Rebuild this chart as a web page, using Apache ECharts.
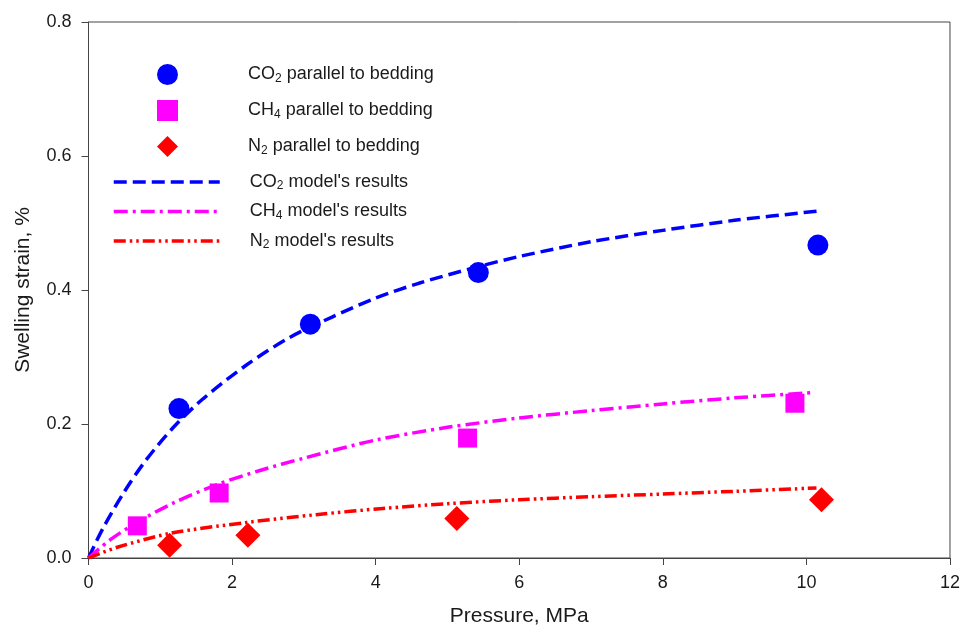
<!DOCTYPE html>
<html>
<head>
<meta charset="utf-8">
<script src="https://cdn.jsdelivr.net/npm/echarts@6/dist/echarts.min.js"></script>
<style>
html,body{margin:0;padding:0;background:#fff;}
#chart{width:963px;height:633px;}
</style>
</head>
<body>
<div id="chart"></div>
<script>
// Measured points
const co2X = [1.26, 3.09, 5.43, 10.16];
const co2Y = [0.223, 0.349, 0.426, 0.467];
const ch4X = [0.68, 1.82, 5.28, 9.84];
const ch4Y = [0.048, 0.097, 0.179, 0.231];
const n2X = [1.13, 2.22, 5.13, 10.21];
const n2Y = [0.019, 0.034, 0.059, 0.087];

// Model curves
const co2ModelX = [0, 0.2, 0.5, 0.8, 1.2, 1.6, 2.2, 2.8, 3.4, 4.0, 4.6, 5.4, 6.0, 7.0, 8.0, 9.0, 10.18];
const co2ModelY = [0, 0.044, 0.099, 0.146, 0.197, 0.238, 0.288, 0.329, 0.360, 0.388, 0.410, 0.434, 0.450, 0.472, 0.489, 0.504, 0.518];
const ch4ModelX = [0, 0.3, 0.69, 1.2, 1.8, 2.4, 3.0, 4.0, 5.0, 6.0, 7.0, 8.0, 9.0, 10.1];
const ch4ModelY = [0, 0.027, 0.054, 0.083, 0.110, 0.131, 0.149, 0.176, 0.195, 0.209, 0.220, 0.230, 0.239, 0.247];
const n2ModelX = [0, 0.4, 1.15, 2.2, 3.2, 4.1, 5.0, 6.0, 7.0, 8.0, 9.0, 10.14];
const n2ModelY = [0, 0.016, 0.037, 0.053, 0.065, 0.074, 0.081, 0.087, 0.0915, 0.0955, 0.0995, 0.1045];

// Axis ticks
const xTicks = [0, 2, 4, 6, 8, 10, 12];
const yTicks = [0.0, 0.2, 0.4, 0.6, 0.8];

const names = {
  co2: "CO2 parallel to bedding",
  ch4: "CH4 parallel to bedding",
  n2: "N2 parallel to bedding",
  co2m: "CO2 model's results",
  ch4m: "CH4 model's results",
  n2m: "N2 model's results"
};

function pairs(xs, ys) { return xs.map((x, i) => [x, ys[i]]); }

const FONT = "Liberation Sans, Arial, sans-serif";
const TXT = '#1a1a1a';
function fmt(name) {
  const m = name.match(/^(CO|CH|N)(\d)(.*)$/);
  return '{sp|}{t|' + m[1] + '}{sub|' + m[2] + '}{t|' + m[3] + '}';
}
function richFor(spW) {
  return {
    sp: { width: spW },
    t: { fontSize: 18, color: TXT, fontFamily: FONT, lineHeight: 20 },
    sub: { fontSize: 12, color: TXT, fontFamily: FONT, lineHeight: 8, verticalAlign: 'bottom' }
  };
}

const chart = echarts.init(document.getElementById('chart'), null, { renderer: 'canvas' });
chart.setOption({
  animation: false,
  backgroundColor: '#fff',
  grid: { left: 88.5, right: 10.5, top: 22, bottom: 75, show: true, borderColor: '#444', borderWidth: 1, backgroundColor: 'transparent' },
  xAxis: {
    type: 'value', min: xTicks[0], max: xTicks[xTicks.length - 1], interval: 2,
    name: 'Pressure, MPa', nameLocation: 'middle', nameGap: 48,
    nameTextStyle: { fontSize: 21, color: TXT, fontFamily: FONT },
    axisLine: { show: true, lineStyle: { color: '#444', width: 1 } },
    axisTick: { show: true, inside: false, length: 7, lineStyle: { color: '#444' } },
    axisLabel: { fontSize: 18, color: TXT, fontFamily: FONT, margin: 16 },
    splitLine: { show: false }
  },
  yAxis: {
    type: 'value', min: yTicks[0], max: yTicks[yTicks.length - 1], interval: 0.2,
    name: 'Swelling strain, %', nameLocation: 'middle', nameGap: 55,
    nameTextStyle: { fontSize: 21, color: TXT, fontFamily: FONT },
    axisLine: { show: true, lineStyle: { color: '#444', width: 1 } },
    axisTick: { show: true, inside: false, length: 7, lineStyle: { color: '#444' } },
    axisLabel: { fontSize: 18, color: TXT, fontFamily: FONT, margin: 17, formatter: v => v.toFixed(1) },
    splitLine: { show: false }
  },
  legend: [
    {
      data: [names.co2, names.ch4, names.n2],
      orient: 'vertical', left: 157, top: 64, padding: 0,
      itemWidth: 21, itemHeight: 21, itemGap: 15,
      formatter: fmt,
      textStyle: { rich: richFor(65) },
      selectedMode: false
    },
    {
      data: [
        { name: names.co2m, itemStyle: { opacity: 0 } },
        { name: names.ch4m, itemStyle: { opacity: 0 } },
        { name: names.n2m, itemStyle: { opacity: 0 } }
      ],
      orient: 'vertical', left: 112, top: 173, padding: 0,
      itemWidth: 106, itemHeight: 20, itemGap: 10.5,
      lineStyle: { width: 3.5 },
      formatter: fmt,
      textStyle: { rich: richFor(25) },
      selectedMode: false
    }
  ],
  series: [
    {
      name: names.co2m, type: 'line', data: pairs(co2ModelX, co2ModelY),
      symbol: 'none', smooth: 0.3, z: 2,
      lineStyle: { color: '#0000ff', width: 3.5, type: [13, 6], cap: 'butt' },
      itemStyle: { color: '#0000ff' }
    },
    {
      name: names.ch4m, type: 'line', data: pairs(ch4ModelX, ch4ModelY),
      symbol: 'none', smooth: 0.3, z: 2,
      lineStyle: { color: '#ff00ff', width: 3.5, type: [14, 5, 3, 5], cap: 'butt' },
      itemStyle: { color: '#ff00ff' }
    },
    {
      name: names.n2m, type: 'line', data: pairs(n2ModelX, n2ModelY),
      symbol: 'none', smooth: 0.3, z: 2,
      lineStyle: { color: '#ff0000', width: 3.5, type: [12, 4, 2.5, 4, 2.5, 4], cap: 'butt' },
      itemStyle: { color: '#ff0000' }
    },
    {
      name: names.co2, type: 'scatter', data: pairs(co2X, co2Y),
      symbol: 'circle', symbolSize: 21, z: 3,
      itemStyle: { color: '#0000ff', opacity: 1 }
    },
    {
      name: names.ch4, type: 'scatter', data: pairs(ch4X, ch4Y),
      symbol: 'rect', symbolSize: 19, z: 3,
      itemStyle: { color: '#ff00ff', opacity: 1 }
    },
    {
      name: names.n2, type: 'scatter', data: pairs(n2X, n2Y),
      symbol: 'diamond', symbolSize: 25, z: 3,
      itemStyle: { color: '#ff0000', opacity: 1 }
    }
  ]
});
</script>
</body>
</html>
